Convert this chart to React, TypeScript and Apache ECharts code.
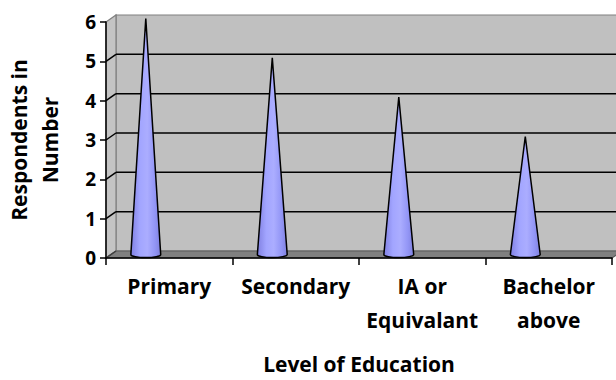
import React, { useEffect, useRef } from 'react';
import * as echarts from 'echarts';

// Respondents by level of education
const categories = ['Primary', 'Secondary', 'IA or\nEquivalant', 'Bachelor\nabove'];
const respondents = [6, 5, 4, 3];
const gridValues = [0, 1, 2, 3, 4, 5];

// pseudo-3D depth offset of the back wall relative to the front plane
const DEPTH_X = 10;
const DEPTH_Y = -7;
const CONE_SHIFT = -0.225; // cone centre relative to band centre, in band widths
const CONE_RADIUS = 0.118; // half base width, in band widths
const FONT = '"Open Sans", "DejaVu Sans", sans-serif';

export default function App() {
  const ref = useRef<HTMLDivElement>(null);

  useEffect(() => {
    const chart = echarts.init(ref.current!, null, { renderer: 'svg' });

    const wallSeries = {
      type: 'custom',
      z: 1,
      silent: true,
      data: [[0, 0]],
      renderItem: (params: any) => {
        const cs = params.coordSys;
        const x0 = cs.x;
        const x1 = cs.x + cs.width;
        const yTop = cs.y;
        const yBot = cs.y + cs.height;
        return {
          type: 'group',
          children: [
            {
              type: 'rect',
              shape: { x: x0 + DEPTH_X, y: yTop + DEPTH_Y, width: cs.width, height: cs.height },
              style: { fill: '#c0c0c0', stroke: '#808080', lineWidth: 1.2 },
            },
            {
              type: 'polygon',
              shape: {
                points: [
                  [x0, yTop],
                  [x0 + DEPTH_X, yTop + DEPTH_Y],
                  [x0 + DEPTH_X, yBot + DEPTH_Y],
                  [x0, yBot],
                ],
              },
              style: { fill: '#c4c4c4', stroke: '#808080', lineWidth: 1.2 },
            },
            {
              type: 'polygon',
              shape: {
                points: [
                  [x0, yBot],
                  [x0 + DEPTH_X, yBot + DEPTH_Y],
                  [x1 + DEPTH_X, yBot + DEPTH_Y],
                  [x1, yBot],
                ],
              },
              style: { fill: '#808080', stroke: '#5a5a5a', lineWidth: 1.2 },
            },
          ],
        };
      },
    };

    const gridSeries = {
      type: 'custom',
      z: 2,
      silent: true,
      data: gridValues.map((v) => [0, v]),
      renderItem: (params: any, api: any) => {
        const cs = params.coordSys;
        const x0 = cs.x;
        const x1 = cs.x + cs.width;
        const v = api.value(1);
        const y = api.coord([0, v])[1];
        const children: any[] = [
          {
            type: 'line',
            shape: { x1: x0, y1: y, x2: x0 + DEPTH_X, y2: y + DEPTH_Y },
            style: { stroke: v === 0 ? '#404040' : '#000', lineWidth: 1.5 },
          },
        ];
        if (v !== 0) {
          children.push({
            type: 'line',
            shape: { x1: x0 + DEPTH_X, y1: y + DEPTH_Y, x2: x1 + DEPTH_X, y2: y + DEPTH_Y },
            style: { stroke: '#000', lineWidth: 1.5 },
          });
        }
        return { type: 'group', children };
      },
    };

    const coneFill = new echarts.graphic.LinearGradient(0, 0, 1, 0, [
      { offset: 0, color: '#8080e2' },
      { offset: 0.3, color: '#a2a5ff' },
      { offset: 0.55, color: '#abadff' },
      { offset: 0.8, color: '#9396f6' },
      { offset: 1, color: '#7f80de' },
    ]);

    const coneSeries = {
      type: 'custom',
      z: 3,
      data: categories.map((_, i) => [i, respondents[i]]),
      renderItem: (params: any, api: any) => {
        const idx = api.value(0);
        const base = api.coord([idx, 0]);
        const tip = api.coord([idx, api.value(1)]);
        const bw = api.size([1, 0])[0];
        const xc = base[0] + DEPTH_X / 2 + CONE_SHIFT * bw;
        const yb = base[1] + DEPTH_Y / 2;
        const yt = tip[1] + DEPTH_Y / 2;
        const r = CONE_RADIUS * bw;
        const ry = 3;
        const d =
          `M ${xc - r} ${yb} L ${xc} ${yt} L ${xc + r} ${yb} ` +
          `A ${r} ${ry} 0 0 1 ${xc - r} ${yb} Z`;
        return {
          type: 'path',
          shape: { pathData: d },
          style: { fill: coneFill, stroke: '#000', lineWidth: 1.5 },
        };
      },
    };

    chart.setOption({
      animation: false,
      grid: { left: 106, top: 22, right: 4, bottom: 122, outerBoundsMode: 'none', containLabel: false },
      xAxis: {
        type: 'category',
        data: categories,
        z: 5,
        boundaryGap: true,
        axisLine: { lineStyle: { color: '#000', width: 1.5 } },
        axisTick: { show: true, length: 7, interval: 0, lineStyle: { color: '#000', width: 1.5 } },
        axisLabel: {
          interval: 0,
          color: '#000',
          fontFamily: FONT,
          fontWeight: 'bold',
          fontSize: 21,
          lineHeight: 34,
          margin: 11,
        },
        splitLine: { show: false },
        name: 'Level of Education',
        nameLocation: 'middle',
        nameGap: 95,
        nameTextStyle: {
          color: '#000',
          fontFamily: FONT,
          fontWeight: 'bold',
          fontSize: 21,
          lineHeight: 21,
        },
      },
      yAxis: {
        type: 'value',
        min: 0,
        max: 6,
        interval: 1,
        z: 5,
        axisLine: { show: true, lineStyle: { color: '#000', width: 1.5 } },
        axisTick: { show: true, length: 6, lineStyle: { color: '#000', width: 1.5 } },
        axisLabel: {
          color: '#000',
          fontFamily: FONT,
          fontWeight: 'bold',
          fontSize: 19,
          margin: 10,
        },
        splitLine: { show: false },
        name: 'Respondents in\nNumber',
        nameLocation: 'middle',
        nameRotate: 90,
        nameGap: 41,
        nameTextStyle: {
          color: '#000',
          fontFamily: FONT,
          fontWeight: 'bold',
          fontSize: 21,
          lineHeight: 31,
        },
      },
      series: [wallSeries, gridSeries, coneSeries],
    });

    return () => chart.dispose();
  }, []);

  return (
    <div
      ref={ref}
      style={{ position: 'fixed', left: 0, top: 0, width: 616, height: 380, background: '#fff' }}
    />
  );
}
